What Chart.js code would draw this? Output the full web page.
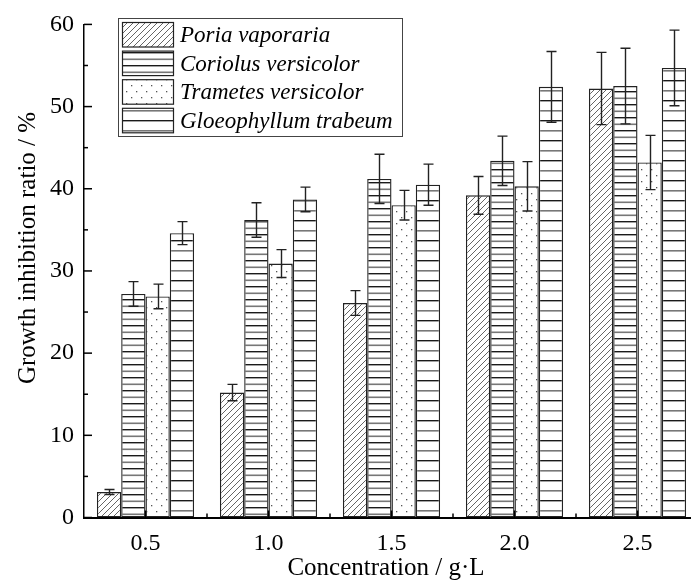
<!DOCTYPE html>
<html><head><meta charset="utf-8">
<script src="https://cdn.jsdelivr.net/npm/chart.js@4.4.0/dist/chart.umd.min.js"></script>
<style>
html,body{margin:0;padding:0;background:#fff;overflow:hidden;}
#wrap{position:relative;width:712px;height:581px;}
</style></head><body>
<div id="wrap"><canvas id="c"></canvas></div>
<script>
const categories = ['0.5','1.0','1.5','2.0','2.5'];
const seriesNames = ['Poria vaporaria','Coriolus versicolor','Trametes versicolor','Gloeophyllum trabeum'];
const poriaValues = [3.1, 15.2, 26.1, 39.2, 52.2];
const poriaErrors = [0.3, 1.0, 1.5, 2.3, 4.4];
const coriolusValues = [27.2, 36.2, 41.2, 43.4, 52.5];
const coriolusErrors = [1.5, 2.1, 3.0, 3.0, 4.6];
const trametesValues = [26.9, 30.9, 38.0, 40.3, 43.2];
const trametesErrors = [1.5, 1.7, 1.8, 3.0, 3.3];
const gloeoValues = [34.6, 38.7, 40.5, 52.4, 54.7];
const gloeoErrors = [1.4, 1.5, 2.5, 4.3, 4.6];
const yTickStep = 10;
const xTitle = 'Concentration / g\u00B7L';
const yTitle = 'Growth inhibition ratio / %';

function makeTile(w, h, draw) {
  const c = document.createElement('canvas');
  c.width = w; c.height = h;
  const g = c.getContext('2d');
  g.fillStyle = '#fff'; g.fillRect(0, 0, w, h);
  draw(g, w, h);
  return g.createPattern(c, 'repeat');
}
const hatch = makeTile(6, 6, (g, w, h) => {
  g.strokeStyle = '#555'; g.lineWidth = 0.9;
  g.beginPath();
  g.moveTo(0, h); g.lineTo(w, 0);
  g.moveTo(-1, 1); g.lineTo(1, -1);
  g.moveTo(w - 1, h + 1); g.lineTo(w + 1, h - 1);
  g.stroke();
});
const hLinesFine = makeTile(8, 13, (g, w, h) => {
  g.fillStyle = '#1a1a1a'; g.fillRect(0, 0, w, 1.4);
  g.fillStyle = '#777'; g.fillRect(0, 6.5, w, 1.6);
});
const dots = makeTile(10, 12, (g, w, h) => {
  g.fillStyle = '#555';
  g.fillRect(1, 1, 1.3, 1.3);
  g.fillRect(6, 7, 1.3, 1.3);
});
const hLinesWide = makeTile(8, 20, (g, w, h) => {
  g.fillStyle = '#1a1a1a'; g.fillRect(0, 0, w, 1.4);
  g.fillStyle = '#777'; g.fillRect(0, 10, w, 1.6);
});

const valueSets = [poriaValues, coriolusValues, trametesValues, gloeoValues];
const errorSets = [poriaErrors, coriolusErrors, trametesErrors, gloeoErrors];
const fills = [hatch, hLinesFine, dots, hLinesWide];

const datasets = seriesNames.map((n, i) => ({
  label: n,
  data: valueSets[i],
  backgroundColor: fills[i],
  borderColor: '#222',
  borderWidth: 1.4,
  borderSkipped: false,
  categoryPercentage: 0.79,
  barPercentage: 1.0
}));

const SERIF = '"Liberation Serif", "Times New Roman", serif';

const extras = {
  id: 'extras',
  afterDatasetsDraw(chart) {
    const ctx = chart.ctx, ys = chart.scales.y;
    ctx.save();
    ctx.strokeStyle = '#222'; ctx.lineWidth = 1.4;
    chart.data.datasets.forEach((ds, i) => {
      const meta = chart.getDatasetMeta(i);
      meta.data.forEach((el, j) => {
        const v = valueSets[i][j], e = errorSets[i][j];
        const x = Math.round(el.x) + 0.5;
        const t = ys.getPixelForValue(v + e), b = ys.getPixelForValue(v - e);
        ctx.beginPath();
        ctx.moveTo(x, t); ctx.lineTo(x, b);
        ctx.moveTo(x - 5, t); ctx.lineTo(x + 5, t);
        ctx.moveTo(x - 5, b); ctx.lineTo(x + 5, b);
        ctx.stroke();
      });
    });
    ctx.restore();
  },
  afterDraw(chart) {
    const ctx = chart.ctx, xs = chart.scales.x, ys = chart.scales.y, a = chart.chartArea;
    ctx.save();
    ctx.strokeStyle = '#000'; ctx.lineWidth = 1.5;
    for (let v = ys.min; v <= ys.max; v += yTickStep / 2) {
      const y = ys.getPixelForValue(v);
      const len = (v % yTickStep === 0) ? 8 : 4;
      ctx.beginPath(); ctx.moveTo(a.left, y); ctx.lineTo(a.left + len, y); ctx.stroke();
    }
    for (let j = 0; j < categories.length; j++) {
      const x = xs.getPixelForValue(j);
      ctx.beginPath(); ctx.moveTo(x, a.bottom); ctx.lineTo(x, a.bottom - 7); ctx.stroke();
      if (j < categories.length - 1) {
        const xm = (x + xs.getPixelForValue(j + 1)) / 2;
        ctx.beginPath(); ctx.moveTo(xm, a.bottom); ctx.lineTo(xm, a.bottom - 4); ctx.stroke();
      }
    }
    ctx.fillStyle = '#000';
    ctx.font = '25px ' + SERIF;
    ctx.textAlign = 'center'; ctx.textBaseline = 'alphabetic';
    ctx.fillText(xTitle, 386, 575);
    ctx.save();
    ctx.translate(35, 248); ctx.rotate(-Math.PI / 2);
    ctx.font = '25px ' + SERIF;
    ctx.fillText(yTitle, 0, 0);
    ctx.restore();
    const lx = 118.5, ly = 18.5, lw = 284, lh = 118, pitch = 28.6;
    ctx.strokeStyle = '#444'; ctx.lineWidth = 1;
    ctx.strokeRect(lx, ly, lw, lh);
    ctx.font = 'italic 23px ' + SERIF;
    ctx.textAlign = 'left';
    chart.data.datasets.forEach((ds, i) => {
      const sy = 22.5 + i * pitch;
      ctx.fillStyle = ds.backgroundColor;
      ctx.fillRect(122.5, sy, 51, 24.5);
      ctx.strokeStyle = '#222'; ctx.lineWidth = 1.2;
      ctx.strokeRect(122.5, sy, 51, 24.5);
      ctx.fillStyle = '#000';
      ctx.fillText(ds.label, 180, 42 + i * pitch);
    });
    ctx.restore();
  }
};

new Chart(document.getElementById('c'), {
  type: 'bar',
  data: { labels: categories, datasets },
  options: {
    responsive: true,
    maintainAspectRatio: false,
    animation: false,
    devicePixelRatio: 1,
    layout: { padding: { top: 24, right: 13, left: 0, bottom: 0 } },
    plugins: { legend: { display: false }, tooltip: { enabled: false } },
    scales: {
      x: {
        grid: { display: false, drawTicks: false },
        border: { display: true, color: '#000', width: 2 },
        ticks: { color: '#000', font: { family: SERIF, size: 24 }, padding: 12, maxRotation: 0 },
        afterFit(s) { s.height = 63.5; }
      },
      y: {
        min: 0, max: 60,
        grid: { display: false, drawTicks: false },
        border: { display: true, color: '#000', width: 1.5 },
        ticks: { stepSize: yTickStep, color: '#000', font: { family: SERIF, size: 24 }, padding: 10 },
        afterFit(s) { s.width = 84; }
      }
    }
  },
  plugins: [extras]
});
</script>
</body></html>
